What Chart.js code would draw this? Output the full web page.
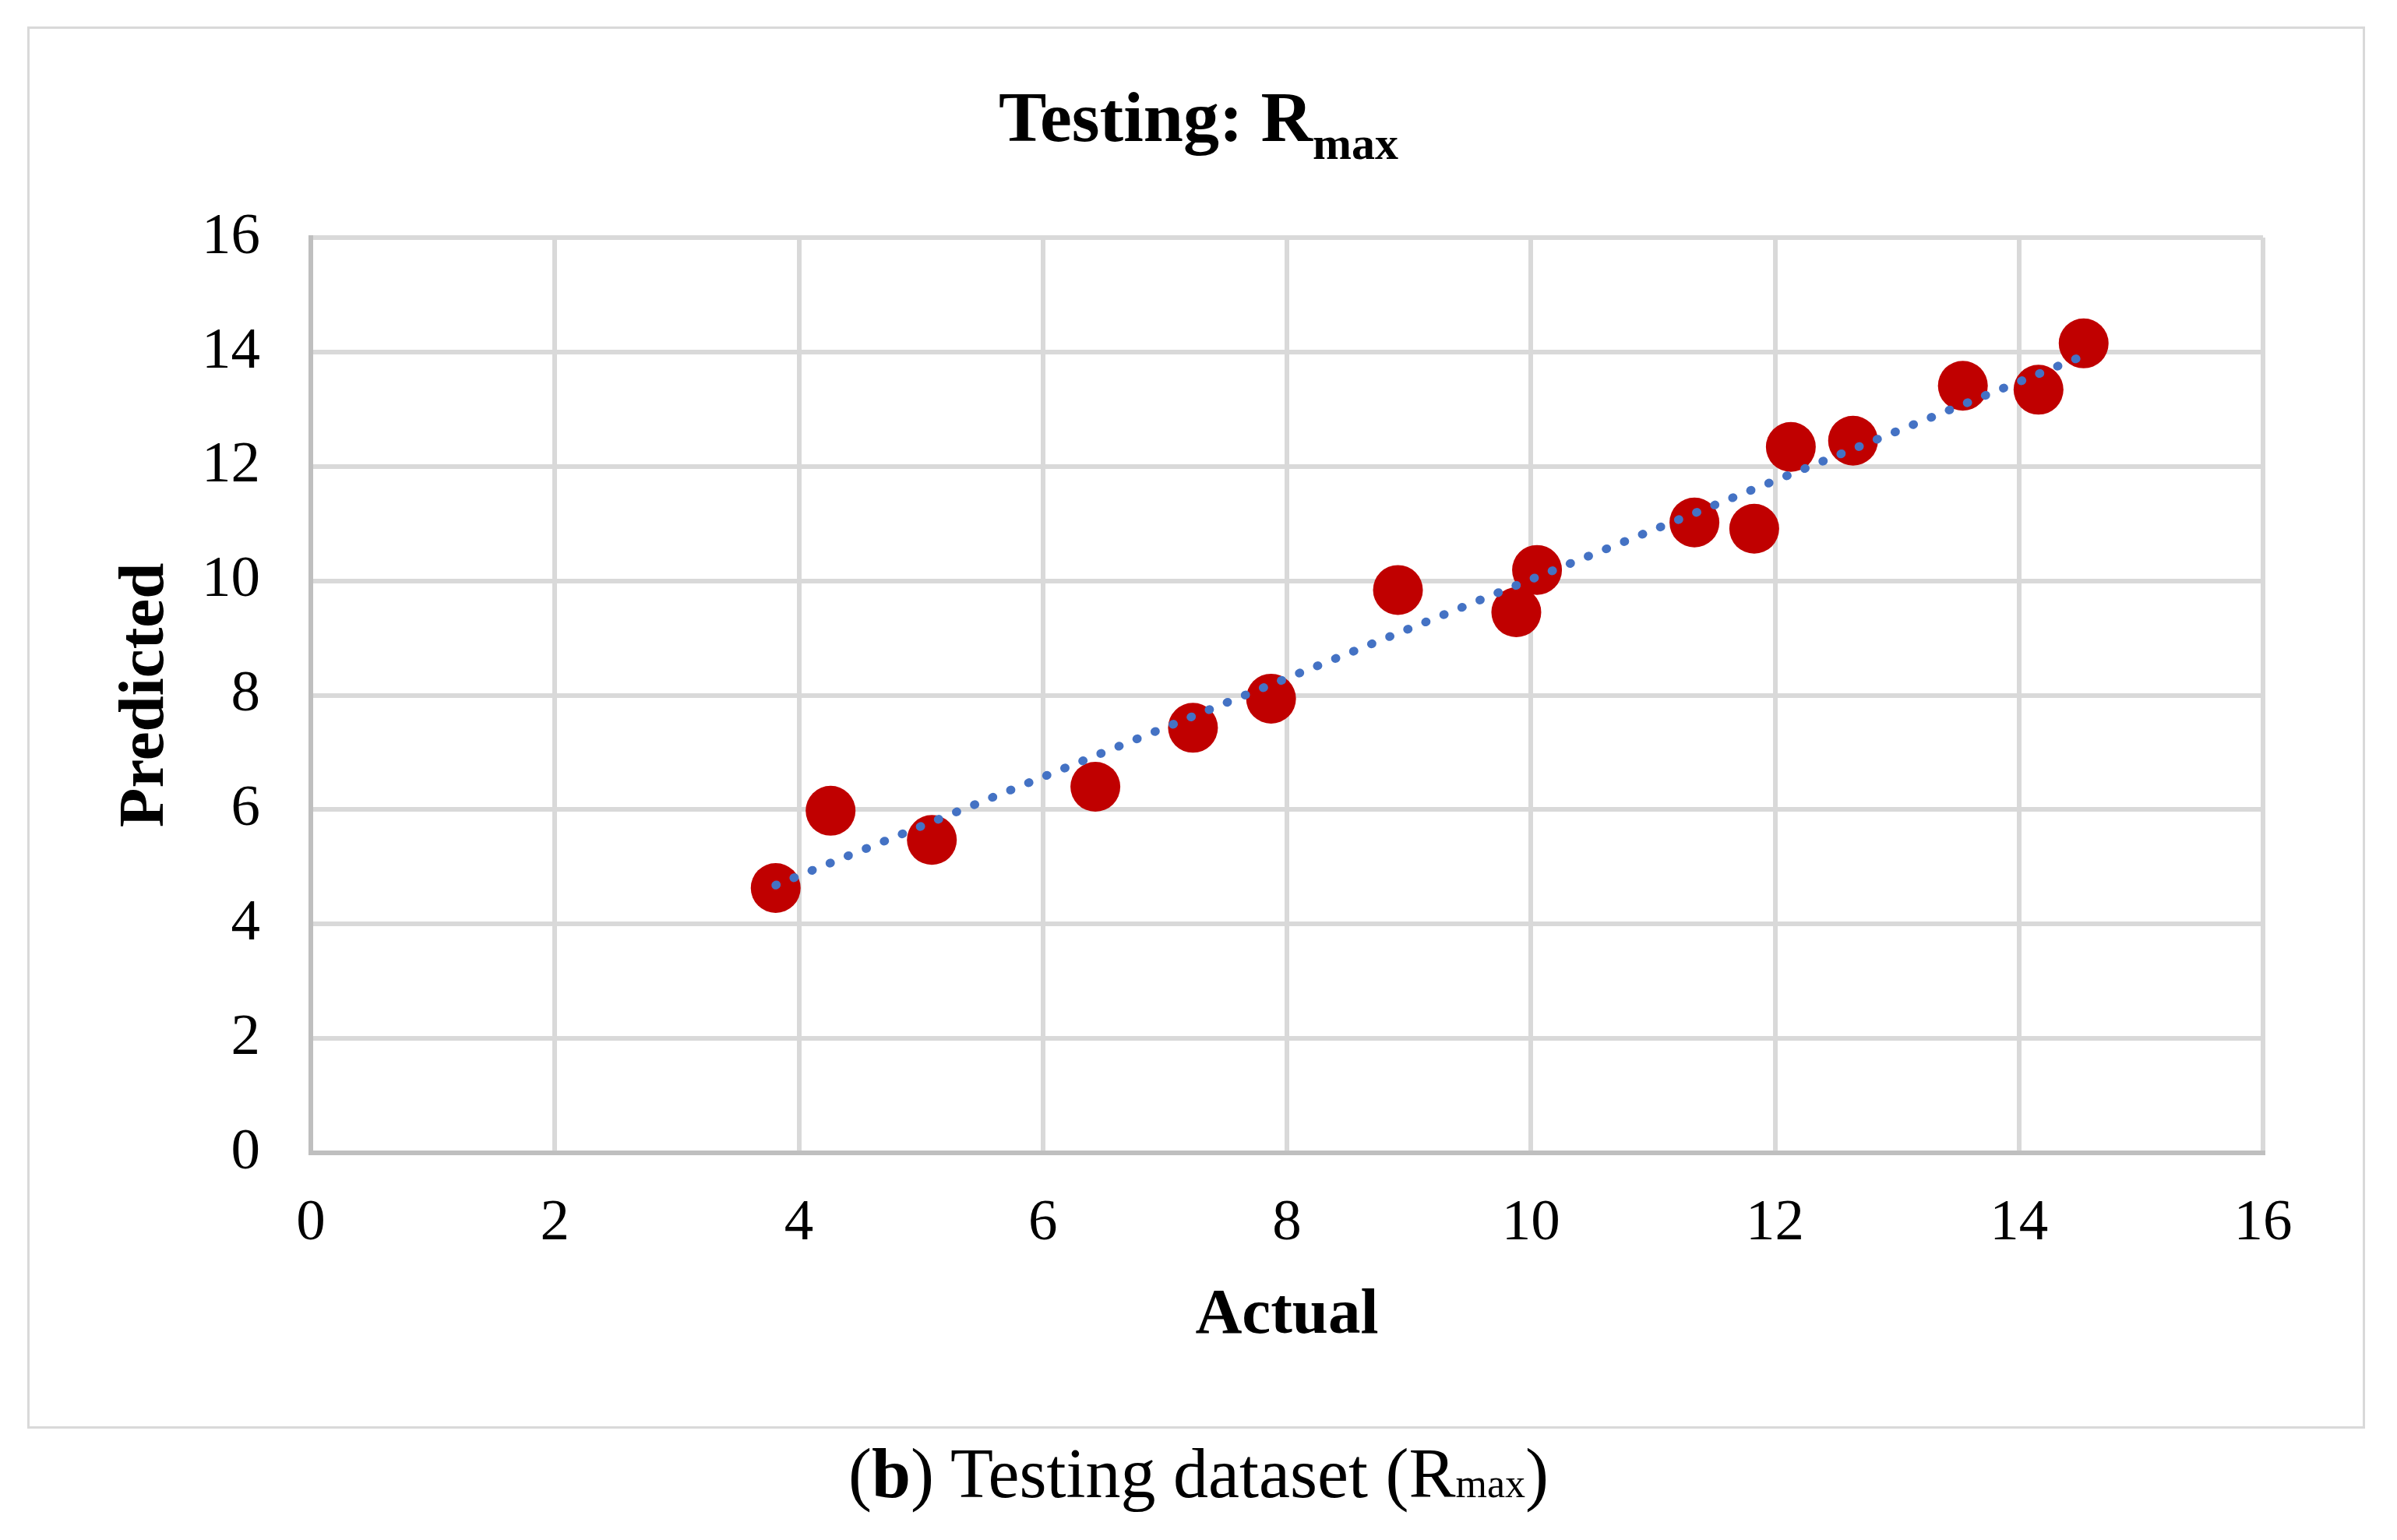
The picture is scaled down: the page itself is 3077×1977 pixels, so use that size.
<!DOCTYPE html>
<html>
<head>
<meta charset="utf-8">
<script src="https://cdn.jsdelivr.net/npm/chart.js@4.4.1/dist/chart.umd.min.js"></script>
<style>
  html, body { margin: 0; padding: 0; background: #fff; }
  body { width: 3077px; height: 1977px; position: relative; overflow: hidden; font-family: "Liberation Serif", serif; }
  #frame { position: absolute; left: 35px; top: 34px; width: 2995px; height: 1794px; border: 3px solid #d9d9d9; }
  #chart { position: absolute; left: 0; top: 0; }
  #titulo { position: absolute; left: 0; top: 104px; width: 3077px; text-align: center; font-weight: bold; font-size: 92px; line-height: 1; white-space: nowrap; }
  #titulo span { font-size: 60px; position: relative; top: 23px; }
  #legenda { position: absolute; left: 0; top: 1847px; width: 3077px; text-align: center; font-size: 90px; line-height: 1; white-space: nowrap; }
  #legenda .sub { font-size: 52px; }
</style>
</head>
<body>
<div id="frame"></div>
<canvas id="chart" width="3077" height="1977"></canvas>
<div id="titulo">Testing: R<span>max</span></div>
<div id="legenda">(<b>b</b>) Testing dataset (R<span class="sub">max</span>)</div>
<script>
// valores
const actual = [3.81, 4.26, 5.09, 6.43, 7.23, 7.87, 8.91, 9.88, 10.05, 11.34, 11.83, 12.13, 12.64, 13.54, 14.16, 14.53];
const predicted = [4.63, 5.98, 5.47, 6.40, 7.43, 7.94, 9.84, 9.45, 10.19, 11.02, 10.91, 12.34, 12.45, 13.41, 13.34, 14.15];

// linha de tendência (extremos)
const trendX = [3.81, 14.50];
const trendY = [4.68, 13.91];

const axisMin = 0;
const axisMax = 16;
const axisStep = 2;

const pontos = actual.map((x, i) => ({ x: x, y: predicted[i] }));
const tendencia = trendX.map((x, i) => ({ x: x, y: trendY[i] }));

const fonteTick = { family: "Liberation Serif", size: 75 };
const fonteTitulo = { family: "Liberation Serif", size: 83, weight: "bold" };

new Chart(document.getElementById("chart"), {
    type: "scatter",
    data: {
        datasets: [
            {
                type: "line",
                label: "Trend",
                data: tendencia,
                borderColor: "#4472C4",
                borderWidth: 11,
                borderDash: [1, 24],
                borderCapStyle: "round",
                pointRadius: 0,
                fill: false,
                order: 0
            },
            {
                label: "Testing",
                data: pontos,
                backgroundColor: "#C00000",
                borderWidth: 0,
                pointRadius: 32,
                pointHoverRadius: 32,
                order: 1
            }
        ]
    },
    options: {
        responsive: false,
        devicePixelRatio: 1,
        animation: false,
        layout: { padding: { left: 138, top: 305, right: 172, bottom: 238 } },
        plugins: {
            legend: { display: false },
            title: { display: false },
            tooltip: { enabled: false }
        },
        scales: {
            x: {
                type: "linear",
                min: axisMin,
                max: axisMax,
                ticks: { stepSize: axisStep, color: "#000", font: fonteTick, padding: 46 },
                grid: { color: "#d9d9d9", lineWidth: 6, drawTicks: false },
                border: { color: "#bfbfbf", width: 6 },
                title: { display: true, text: "Actual", color: "#000", font: fonteTitulo, padding: 0 },
                afterFit: (s) => { s.height = 259; }
            },
            y: {
                type: "linear",
                min: axisMin,
                max: axisMax,
                ticks: { stepSize: axisStep, color: "#000", font: fonteTick, padding: 65 },
                grid: { color: "#d9d9d9", lineWidth: 6, drawTicks: false },
                border: { color: "#bfbfbf", width: 6 },
                title: { display: true, text: "Predicted", color: "#000", font: fonteTitulo, padding: 0 },
                afterFit: (s) => { s.width = 261; }
            }
        }
    }
});
</script>
</body>
</html>
